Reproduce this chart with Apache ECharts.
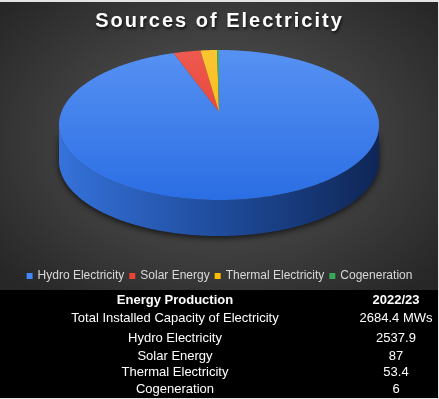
<!DOCTYPE html>
<html>
<head>
<meta charset="utf-8">
<script src="https://cdn.jsdelivr.net/npm/echarts@6/dist/echarts.min.js"></script>
<style>
html, body { margin: 0; padding: 0; background: #e4e4e4; }
.wrap { position: relative; width: 439px; height: 399px; overflow: hidden; }
.plot-bg {
  position: absolute; left: 0; top: 2px; width: 438px; height: 288px;
  background: radial-gradient(ellipse 65% 70% at 50% 48%, #5a5a5a 0%, #3c3c3c 60%, #272727 100%);
}
.table-bg { position: absolute; left: 0; top: 290px; width: 438px; height: 108px; background: #000; }
#chart { position: absolute; left: 0; top: 0; width: 439px; height: 399px; }
.title {
  position: absolute; left: 0; top: 8px; width: 439px; text-align: center;
  font: bold 20px "Liberation Sans", Arial, sans-serif; line-height: 24px;
  letter-spacing: 2px; color: #fff;
  text-shadow: 1px 2px 3px rgba(0, 0, 0, .75);
}
</style>
</head>
<body>
<div class="wrap">
  <div class="plot-bg"></div>
  <div class="table-bg"></div>
  <div id="chart"></div>
  <div class="title">Sources of Electricity</div>
</div>
<script>
// data
const categories = ["Hydro Electricity", "Solar Energy", "Thermal Electricity", "Cogeneration"]
const values = [2537.9, 87, 53.4, 6]
const tableHead = ["Energy Production", "2022/23"]
const totalLabel = "Total Installed Capacity of Electricity"
const totalValue = "2684.4 MWs"

const colors = ["#4285f4", "#ea4335", "#fbbc04", "#34a853"]
const topFills = [
  ["#5892f3", "#2b6ee4"],
  ["#ef5b50", "#e0302a"],
  ["#fcc633", "#f4b400"],
  ["#41b35e", "#2a9a48"]
]

// perspective ellipse for the pie top
const CX = 219, CY = 112, RX = 157.6, RY = 72.75, K = 0.1733, DEPTH = 36
const TH_R = Math.acos(-K), TH_L = 2 * Math.PI - Math.acos(-K)

function project(th, dy) {
  const u = Math.sin(th), v = Math.cos(th), w = 1 + K * v
  return [CX + RX * u / w, CY - RY * v / w + dy]
}
function arc(a0, a1, dy) {
  const pts = []
  const n = Math.max(2, Math.ceil((a1 - a0) / (Math.PI / 360)))
  for (let i = 0; i <= n; i++) pts.push(project(a0 + (a1 - a0) * i / n, dy))
  return pts
}

function sliceRenderer(idx) {
  return function (params, api) {
    const total = values.reduce((a, b) => a + b, 0)
    let before = 0
    for (let j = 0; j < idx; j++) before += values[j]
    const a0 = before / total * 2 * Math.PI
    const a1 = (before + api.value(0)) / total * 2 * Math.PI
    const children = []
    const s0 = Math.max(a0, TH_R), s1 = Math.min(a1, TH_L)
    if (s1 > s0) {
      const top = arc(s0, s1, 0)
      const bottom = arc(s0, s1, DEPTH).reverse()
      children.push({
        type: "polygon",
        z2: 1,
        shape: { points: top.concat(bottom) },
        style: {
          fill: new echarts.graphic.LinearGradient(CX - 160, 0, CX + 160, 0, [
            { offset: 0, color: "#3572da" },
            { offset: 0.5, color: "#1f4c9c" },
            { offset: 1, color: "#0f2656" }
          ], true),
          shadowBlur: 6,
          shadowOffsetY: 2,
          shadowColor: "rgba(0,0,0,0.7)"
        }
      })
    }
    children.push({
      type: "polygon",
      z2: 5,
      shape: { points: [[CX, CY]].concat(arc(a0, a1, 0)) },
      style: {
        fill: new echarts.graphic.LinearGradient(0, 45, 0, 200, [
          { offset: 0, color: topFills[idx][0] },
          { offset: 1, color: topFills[idx][1] }
        ], true)
      }
    })
    return { type: "group", children: children }
  }
}

const chart = echarts.init(document.getElementById("chart"))

const rowsY = [338, 356, 372, 389]
const tableFont = '13px "Liberation Sans", Arial, sans-serif'
const texts = [
  { text: tableHead[0], x: 175, y: 300, bold: true },
  { text: tableHead[1], x: 396, y: 300, bold: true },
  { text: totalLabel, x: 175, y: 318 },
  { text: totalValue, x: 396, y: 318 }
]
categories.forEach((c, i) => {
  texts.push({ text: c, x: 175, y: rowsY[i] })
  texts.push({ text: String(values[i]), x: 396, y: rowsY[i] })
})

const option = {
  animation: false,
  color: colors,
  legend: {
    data: categories,
    left: "center",
    top: 265,
    icon: "rect",
    itemWidth: 6,
    itemHeight: 6,
    itemGap: 5,
    textStyle: { color: "#d9d9d9", fontSize: 12, fontFamily: "Liberation Sans" }
  },
  graphic: {
    elements: texts.map(t => ({
      type: "text",
      style: {
        text: t.text,
        x: t.x,
        y: t.y,
        fill: "#fff",
        font: (t.bold ? "bold " : "") + tableFont,
        textAlign: "center",
        textVerticalAlign: "middle"
      }
    }))
  },
  series: categories.map((name, i) => ({
    name: name,
    type: "custom",
    coordinateSystem: "none",
    itemStyle: { color: colors[i] },
    renderItem: sliceRenderer(i),
    data: [values[i]]
  }))
}
chart.setOption(option)
</script>
</body>
</html>
